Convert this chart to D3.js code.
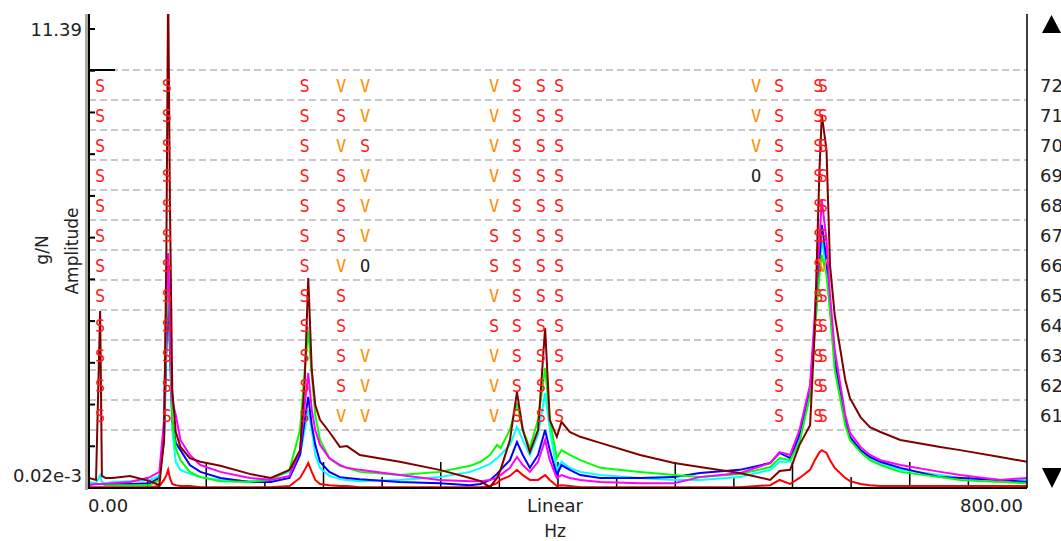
<!DOCTYPE html>
<html>
<head>
<meta charset="utf-8">
<script src="https://cdn.jsdelivr.net/npm/d3@7"></script>
<style>
body { margin: 0; background: #fff; overflow: hidden; }
svg { display: block; font-family: "DejaVu Sans", sans-serif; }
</style>
</head>
<body>
<script>
// frequency grid (Hz) shared by all curves
var freqs = [0, 6, 9.5, 11, 14, 20, 35, 52, 60, 64,
  66, 67.5, 69, 71, 74, 78, 86, 95, 112, 137,
  155, 171, 180, 184, 187, 190, 193, 197, 205, 214,
  220, 231, 265, 299, 325, 334, 342, 348, 351, 359,
  365, 370, 376, 383, 389, 393, 399, 403, 410, 419,
  436, 470, 499, 521, 555, 581, 589, 598, 606, 615,
  619, 623, 625, 629, 632, 636, 645, 649, 658, 666,
  675, 692, 726, 743, 777, 800];

var maroonAmp = [.25, .20, 4.39, .30, .25, .25, .30, .17, .07, 1.19,
  5.91, 12.5, 7.15, 2.43, 1.39, 1.02, .74, .65, .55, .35,
  .25, .45, .94, 2.68, 5.21, 2.93, 2.06, 1.69, 1.39, 1.02,
  1.04, .82, .65, .45, .25, .17, .02, .25, .45, 1.19,
  2.38, 1.44, .89, 1.44, 3.97, 1.69, 1.27, 1.64, 1.39, 1.27,
  1.12, .82, .62, .52, .37, .20, .42, .45, 1.07, 1.56,
  3.92, 7.89, 9.26, 8.39, 5.53, 4.29, 2.68, 2.23, 1.76, 1.51,
  1.39, 1.19, 1.02, .94, .77, .65];

var greenAmp = [.10, .10, .10, .10, .07, .07, .07, .07, .20, 1.44,
  3.92, 5.53, 3.92, 1.69, .99, .69, .40, .27, .17, .15,
  .20, .45, 1.44, 2.93, 3.92, 2.80, 1.81, 1.19, .74, .55,
  .50, .40, .32, .40, .55, .65, .82, 1.07, .99, 1.44,
  2.11, 1.44, .99, 1.69, 2.98, 1.69, .74, .94, .82, .69,
  .50, .40, .32, .27, .35, .52, .74, .69, 1.14, 2.31,
  3.92, 5.29, 5.78, 5.29, 4.42, 2.93, 1.56, 1.19, .89, .69,
  .57, .40, .27, .20, .15, .12];

var cyanAmp = [.15, .12, .32, .15, .12, .15, .17, .20, .30, 1.19,
  3.67, 5.29, 3.67, 1.44, .65, .45, .35, .27, .20, .17,
  .25, .40, .82, 1.44, 1.94, 1.44, .82, .50, .30, .22,
  .20, .17, .20, .27, .40, .50, .60, .74, .82, 1.07,
  1.51, 1.19, .82, 1.32, 2.36, 1.44, .45, .65, .50, .40,
  .32, .25, .20, .20, .27, .45, .65, .65, 1.19, 2.31,
  3.92, 5.41, 6.16, 5.41, 4.42, 3.05, 1.64, 1.24, .94, .74,
  .62, .45, .32, .25, .20, .20];

var blueAmp = [.10, .10, .10, .10, .10, .10, .10, .12, .25, 1.19,
  3.43, 4.91, 3.43, 1.69, 1.12, .94, .57, .40, .25, .15,
  .15, .25, .82, 1.69, 2.26, 1.56, 1.07, .65, .40, .27,
  .25, .22, .15, .12, .07, .10, .20, .35, .45, .69,
  1.14, .82, .50, .82, 1.44, .94, .32, .57, .45, .32,
  .25, .25, .27, .37, .45, .62, .87, .74, 1.32, 2.43,
  4.05, 5.66, 6.53, 5.66, 4.54, 3.18, 1.69, 1.27, .94, .77,
  .65, .50, .27, .25, .20, .15];

var magentaAmp = [.07, .10, .10, .10, .10, .12, .15, .27, .40, 1.69,
  4.67, 5.83, 4.17, 2.18, 1.81, 1.19, .82, .57, .40, .25,
  .20, .30, .94, 2.06, 2.85, 1.94, 1.44, 1.07, .74, .57,
  .50, .45, .32, .20, .17, .17, .20, .25, .32, .50,
  .77, .57, .40, .65, 1.19, .69, .25, .32, .25, .20,
  .15, .12, .12, .27, .37, .62, .89, .82, 1.44, 2.56,
  4.29, 6.16, 7.15, 6.16, 4.79, 3.43, 1.81, 1.37, 1.02, .82,
  .69, .57, .40, .32, .20, .25];

var redAmp = [.02, .02, .02, .02, .02, .02, .02, .02, .05, .20,
  .32, .45, .25, .10, .07, .05, .05, .02, .02, .02,
  .02, .05, .25, .45, .62, .40, .20, .10, .07, .05,
  .05, .02, .02, .02, .02, .02, .05, .12, .20, .30,
  .45, .32, .20, .20, .32, .20, .05, .07, .05, .02,
  .02, .02, .02, .02, .02, .07, .20, .10, .25, .45,
  .69, .89, .94, .87, .69, .50, .25, .17, .10, .07,
  .05, .05, .05, .05, .05, .05];

// marker columns (Hz) and rows of marker codes
var markerCols = [9.4, 66.5, 184, 215, 235.5, 345.5, 365, 385.5, 401, 569, 588.5, 622, 626];
var rowLabels = ["72", "71", "70", "69", "68", "67", "66", "65", "64", "63", "62", "61"];
var markerRows = [
  "SSSVVVSSSVSSS",
  "SSSSVVSSSVSSS",
  "SSSVSVSSSVSSS",
  "SSSSVVSSSOSSS",
  "SSSSVVSSS.SSS",
  "SSSSVSSSS.SSS",
  "SSSVOSSSS.SSV",
  "SSSS.VSSS.SSS",
  "SSSS.SSSS.SSS",
  "SSSSVVSSS.SSS",
  "SSSSVVSSS.SSS",
  "SSSVVVSSS.SSS"
];

var W = 1061, H = 541;
var plot = {left: 89, right: 1027, top: 14, bottom: 488};

var svg = d3.select("body").append("svg")
  .attr("width", W)
  .attr("height", H);

var x = d3.scaleLinear().domain([0, 800]).range([plot.left, plot.right]);
var y = d3.scaleLinear().domain([0.00002, 11.39]).range([plot.bottom, 29]);
var rowY = d3.scaleBand().domain(rowLabels).range([70, 430]);

svg.append("defs").append("clipPath").attr("id", "clip")
  .append("rect")
  .attr("x", plot.left).attr("y", plot.top)
  .attr("width", plot.right - plot.left)
  .attr("height", plot.bottom - plot.top);

// dashed row grid
var gridY = rowLabels.map(d => rowY(d)).concat([rowY.range()[1]]);
svg.append("g").selectAll("line").data(gridY).enter().append("line")
  .attr("x1", plot.left).attr("x2", plot.right)
  .attr("y1", d => d).attr("y2", d => d)
  .attr("stroke", "#c8c8c8")
  .attr("stroke-width", 2)
  .attr("stroke-dasharray", "7,4");

// bottom ticks, tall every 100 Hz
svg.append("g").selectAll("line").data(d3.range(50, 800, 50)).enter().append("line")
  .attr("x1", d => x(d)).attr("x2", d => x(d))
  .attr("y1", plot.bottom)
  .attr("y2", d => d % 100 === 0 ? plot.bottom - 26 : plot.bottom - 11)
  .attr("stroke", "#000")
  .attr("stroke-width", 1.5);

// curves
var line = d3.line()
  .x((d, i) => x(freqs[i]))
  .y(d => y(d));

var series = [
  {name: "cyan", color: "#00ffff", values: cyanAmp},
  {name: "blue", color: "#0000ff", values: blueAmp},
  {name: "green", color: "#00ff00", values: greenAmp},
  {name: "magenta", color: "#ff00ff", values: magentaAmp},
  {name: "red", color: "#ff0000", values: redAmp},
  {name: "maroon", color: "#800000", values: maroonAmp}
];

svg.append("g").attr("clip-path", "url(#clip)")
  .selectAll("path").data(series).enter().append("path")
  .attr("fill", "none")
  .attr("stroke", d => d.color)
  .attr("stroke-width", 2)
  .attr("stroke-linejoin", "miter")
  .attr("d", d => line(d.values));

// markers
var markerColor = {S: "#ff1a1a", V: "#ff8c00", O: "#222"};
var cells = [];
markerRows.forEach(function (row, r) {
  row.split("").forEach(function (ch, c) {
    if (ch !== ".") cells.push({row: rowLabels[r], col: markerCols[c], ch: ch});
  });
});
svg.append("g").selectAll("text").data(cells).enter().append("text")
  .attr("x", d => x(d.col))
  .attr("y", d => rowY(d.row) + rowY.bandwidth() / 2 + 1)
  .attr("text-anchor", "middle")
  .attr("dominant-baseline", "central")
  .style("font-family", "'DejaVu Sans Mono', monospace")
  .style("font-size", "17px")
  .attr("fill", d => markerColor[d.ch])
  .text(d => d.ch);

// frame: left axis, bottom axis, right border
svg.append("rect")
  .attr("x", 85).attr("y", plot.top)
  .attr("width", 3).attr("height", plot.bottom - plot.top + 2)
  .attr("fill", "#a9a89a");
svg.append("line")
  .attr("x1", plot.left).attr("x2", plot.left)
  .attr("y1", plot.top).attr("y2", plot.bottom + 1)
  .attr("stroke", "#000").attr("stroke-width", 2);
svg.append("line")
  .attr("x1", plot.left).attr("x2", plot.right)
  .attr("y1", plot.bottom).attr("y2", plot.bottom)
  .attr("stroke", "#000").attr("stroke-width", 2);
svg.append("line")
  .attr("x1", plot.right).attr("x2", plot.right)
  .attr("y1", plot.top).attr("y2", plot.bottom)
  .attr("stroke", "#000").attr("stroke-width", 1.5);
svg.append("line")
  .attr("x1", plot.left).attr("x2", 115)
  .attr("y1", 70).attr("y2", 70)
  .attr("stroke", "#000").attr("stroke-width", 2);

// left axis ticks
svg.append("g").selectAll("line").data(d3.range(12)).enter().append("line")
  .attr("x1", plot.left).attr("x2", plot.left + 6)
  .attr("y1", d => y(11.39 * d / 11)).attr("y2", d => y(11.39 * d / 11))
  .attr("stroke", "#000").attr("stroke-width", 2);

// texts
var txt = svg.append("g").style("font-size", "18px").attr("fill", "#222");
txt.append("text").attr("x", 82).attr("y", 29).attr("text-anchor", "end")
  .attr("dominant-baseline", "central").text("11.39");
txt.append("text").attr("x", 82).attr("y", 475).attr("text-anchor", "end")
  .attr("dominant-baseline", "central").text("0.02e-3");
txt.append("text").attr("x", 88).attr("y", 505)
  .attr("dominant-baseline", "central").text("0.00");
txt.append("text").attr("x", 555).attr("y", 505).attr("text-anchor", "middle")
  .attr("dominant-baseline", "central").text("Linear");
txt.append("text").attr("x", 1023).attr("y", 505).attr("text-anchor", "end")
  .attr("dominant-baseline", "central").text("800.00");
txt.append("text").attr("x", 555).attr("y", 531).attr("text-anchor", "middle")
  .attr("dominant-baseline", "central").style("font-size", "17px").text("Hz");
txt.append("text").attr("transform", "translate(72,251) rotate(-90)")
  .attr("text-anchor", "middle").attr("dominant-baseline", "central")
  .style("font-size", "17px").text("Amplitude");
txt.append("text").attr("transform", "translate(42,250) rotate(-90)")
  .attr("text-anchor", "middle").attr("dominant-baseline", "central")
  .style("font-size", "17px").text("g/N");

// row labels on the right
txt.append("g").selectAll("text").data(rowLabels).enter().append("text")
  .attr("x", 1040)
  .attr("y", d => rowY(d) + rowY.bandwidth() / 2)
  .attr("dominant-baseline", "central")
  .text(d => d);

// scroll arrows
svg.append("path").attr("d", "M1042,33L1051.5,15L1061,33Z").attr("fill", "#000");
svg.append("path").attr("d", "M1042,468L1062,468L1052,488Z").attr("fill", "#000");
</script>
</body>
</html>
